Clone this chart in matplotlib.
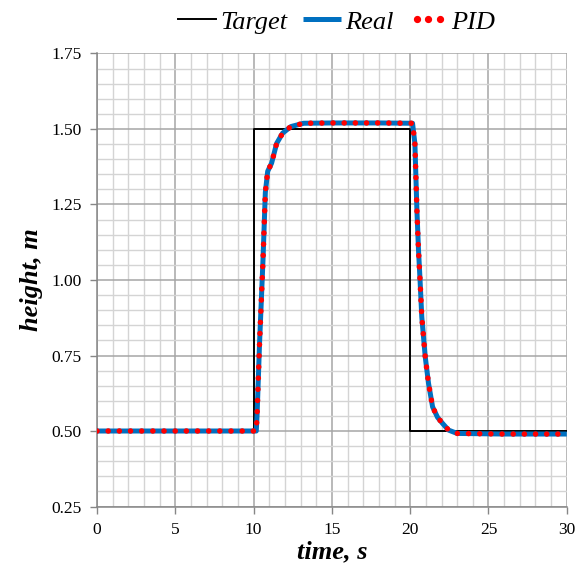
import matplotlib
matplotlib.use("Agg")
import matplotlib.pyplot as plt
from matplotlib.ticker import MultipleLocator
from matplotlib.lines import Line2D
from matplotlib.legend_handler import HandlerLine2D

# ---- data ----
target_t = [0, 10, 10, 20, 20, 30]
target_y = [0.5, 0.5, 1.5, 1.5, 0.5, 0.5]

real_t = [0, 10, 10.17, 10.22, 10.38, 10.6, 10.75, 10.9, 11.15, 11.47, 11.85, 12.38,
          13.2, 15, 18, 20.15, 20.3, 20.43, 20.53, 20.62, 20.74, 20.96, 21.17, 21.43,
          21.75, 22.07, 22.45, 23.0, 26, 30]
real_y = [0.5, 0.5, 0.5, 0.55, 0.79, 1.066, 1.29, 1.36, 1.387, 1.452, 1.486, 1.508,
          1.519, 1.52, 1.52, 1.519, 1.452, 1.23, 1.10, 1.01, 0.878, 0.746, 0.658, 0.58,
          0.545, 0.525, 0.503, 0.492, 0.49, 0.49]

pid_t = [0, 10, 10.17, 10.22, 10.38, 10.6, 10.75, 10.9, 11.15, 11.47, 11.85, 12.38,
         13.2, 15, 18, 20.15, 20.3, 20.43, 20.53, 20.62, 20.74, 20.96, 21.17, 21.43,
         21.75, 22.07, 22.45, 23.0, 26, 30]
pid_y = [0.5, 0.5, 0.5, 0.55, 0.79, 1.066, 1.29, 1.36, 1.387, 1.452, 1.486, 1.508,
         1.519, 1.52, 1.52, 1.519, 1.452, 1.23, 1.10, 1.01, 0.878, 0.746, 0.658, 0.58,
         0.545, 0.525, 0.503, 0.492, 0.49, 0.49]

x_ticks = [0, 5, 10, 15, 20, 25, 30]
y_ticks = [0.25, 0.5, 0.75, 1.0, 1.25, 1.5, 1.75]
y_tick_labels = ["0.25", "0.50", "0.75", "1.00", "1.25", "1.50", "1.75"]

plt.rcParams['font.family'] = ['Liberation Serif', 'DejaVu Serif']

fig = plt.figure(figsize=(5.76, 5.66), dpi=100)
ax = fig.add_axes([0.1684, 0.1051, 0.8156, 0.8004])

ax.set_xlim(0, 30)
ax.set_ylim(0.25, 1.75)
ax.set_xticks(x_ticks)
ax.set_yticks(y_ticks)
ax.set_yticklabels(y_tick_labels)
ax.xaxis.set_minor_locator(MultipleLocator(1))
ax.yaxis.set_minor_locator(MultipleLocator(0.05))

ax.grid(which='minor', color='#d4d4d4', linewidth=1.0)
ax.grid(which='major', color='#a6a6a6', linewidth=1.1)
ax.set_axisbelow(True)

for s in ax.spines.values():
    s.set_visible(False)
ax.spines['left'].set_visible(True)
ax.spines['bottom'].set_visible(True)
ax.spines['left'].set_color('#868686')
ax.spines['bottom'].set_color('#868686')
ax.spines['left'].set_linewidth(1.1)
ax.spines['bottom'].set_linewidth(1.1)

ax.tick_params(which='major', direction='out', length=5, width=1, color='#868686',
               labelsize=12.5, pad=6)
ax.tick_params(which='minor', length=0)

h_target, = ax.plot(target_t, target_y, color='black', linewidth=1.4, zorder=3)
h_real, = ax.plot(real_t, real_y, color='#0070C0', linewidth=3.6, zorder=4,
                  solid_capstyle='butt', solid_joinstyle='round')
ax.plot(pid_t, pid_y, color='#FF0000', linewidth=4.0, linestyle=(0, (0.01, 2.0)),
        dash_capstyle='round', zorder=5)
h_pid = Line2D([], [], linestyle='none', marker='o', markersize=4.2,
               markerfacecolor='#FF0000', markeredgecolor='#FF0000')

ax.set_xlabel('time, s', fontsize=19, fontweight='bold', fontstyle='italic', labelpad=2)
ax.set_ylabel('height, m', fontsize=19, fontweight='bold', fontstyle='italic', labelpad=6)

leg = fig.legend([h_target, h_real, h_pid], ['Target', 'Real', 'PID'], loc='center',
                 bbox_to_anchor=(336.5 / 576, 1 - 22 / 566), ncol=3, frameon=False,
                 prop={'style': 'italic', 'size': 19}, handlelength=1.45,
                 handletextpad=0.15, columnspacing=0.6, borderaxespad=0.0,
                 borderpad=0.0, numpoints=1,
                 handler_map={h_pid: HandlerLine2D(numpoints=3)})

fig.savefig('out.png', dpi=100)
